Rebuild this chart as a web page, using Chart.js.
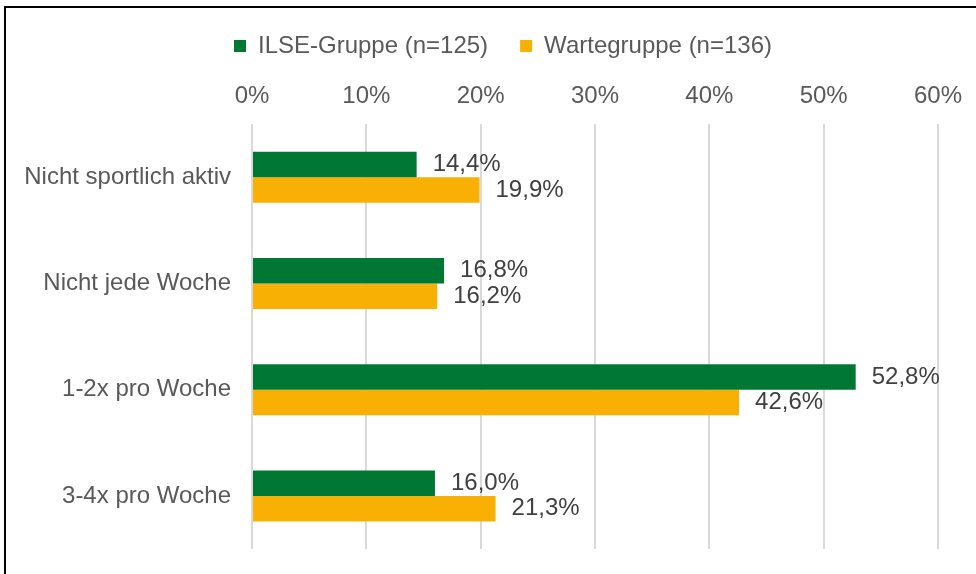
<!DOCTYPE html>
<html>
<head>
<meta charset="utf-8">
<script src="https://cdn.jsdelivr.net/npm/chart.js@4"></script>
<style>
  html, body { margin: 0; padding: 0; background: #fff; }
  #wrap { position: relative; width: 976px; height: 574px; overflow: hidden; }
  #frame { position: absolute; left: 4px; top: 6px; width: 1200px; height: 800px; border-left: 2px solid #000; border-top: 2px solid #000; box-sizing: border-box; pointer-events: none; }
  canvas { position: absolute; left: 0; top: 0; }
</style>
</head>
<body>
<div id="wrap">
  <canvas id="c" width="976" height="574"></canvas>
  <div id="frame"></div>
</div>
<script>
const categories = ['Nicht sportlich aktiv', 'Nicht jede Woche', '1-2x pro Woche', '3-4x pro Woche'];
const ilseValues = [14.4, 16.8, 52.8, 16.0];
const warteValues = [19.9, 16.2, 42.6, 21.3];
const seriesNames = ['ILSE-Gruppe (n=125)', 'Wartegruppe (n=136)'];
const xTicks = [0, 10, 20, 30, 40, 50, 60];

const FONT = "'Liberation Sans', Arial, sans-serif";

const valueLabels = {
  id: 'valueLabels',
  afterDatasetsDraw(chart) {
    const ctx = chart.ctx;
    ctx.save();
    ctx.font = '24px ' + FONT;
    ctx.fillStyle = '#404040';
    ctx.textAlign = 'left';
    ctx.textBaseline = 'middle';
    chart.data.datasets.forEach((ds, i) => {
      const meta = chart.getDatasetMeta(i);
      meta.data.forEach((bar, j) => {
        const txt = ds.data[j].toFixed(1).replace('.', ',') + '%';
        ctx.fillText(txt, bar.x + 16, bar.y);
      });
    });
    ctx.restore();
  }
};

const legendShift = {
  id: 'legendShift',
  afterLayout(chart) {
    if (chart.legend) {
      chart.legend.left += 34;
      chart.legend.right += 34;
    }
  }
};

new Chart(document.getElementById('c'), {
  type: 'bar',
  data: {
    labels: categories,
    datasets: [
      { label: seriesNames[0], data: ilseValues, backgroundColor: '#017734', categoryPercentage: 0.48, barPercentage: 1.0 },
      { label: seriesNames[1], data: warteValues, backgroundColor: '#F9B005', categoryPercentage: 0.48, barPercentage: 1.0 }
    ]
  },
  options: {
    indexAxis: 'y',
    responsive: false,
    animation: false,
    layout: { padding: { top: 2, left: 0, right: 38, bottom: 25 } },
    plugins: {
      legend: {
        position: 'top',
        labels: {
          boxWidth: 12, boxHeight: 12, padding: 32,
          color: '#595959',
          font: { family: FONT, size: 24 }
        }
      },
      tooltip: { enabled: false }
    },
    scales: {
      x: {
        position: 'top',
        min: 0, max: 60,
        afterBuildTicks(scale) { scale.ticks = xTicks.map(v => ({ value: v })); },
        afterFit(scale) { scale.height = 56; },
        ticks: {
          color: '#595959',
          padding: 13,
          font: { family: FONT, size: 24 },
          callback: v => v + '%'
        },
        grid: { color: '#d9d9d9', lineWidth: 2, drawTicks: false },
        border: { display: false }
      },
      y: {
        afterFit(scale) { scale.width = 252; scale.paddingTop = 0; scale.paddingBottom = 0; },
        ticks: {
          color: '#595959',
          padding: 21,
          font: { family: FONT, size: 24 }
        },
        grid: { display: false, drawTicks: false },
        border: { display: false }
      }
    }
  },
  plugins: [valueLabels, legendShift]
});
</script>
</body>
</html>
